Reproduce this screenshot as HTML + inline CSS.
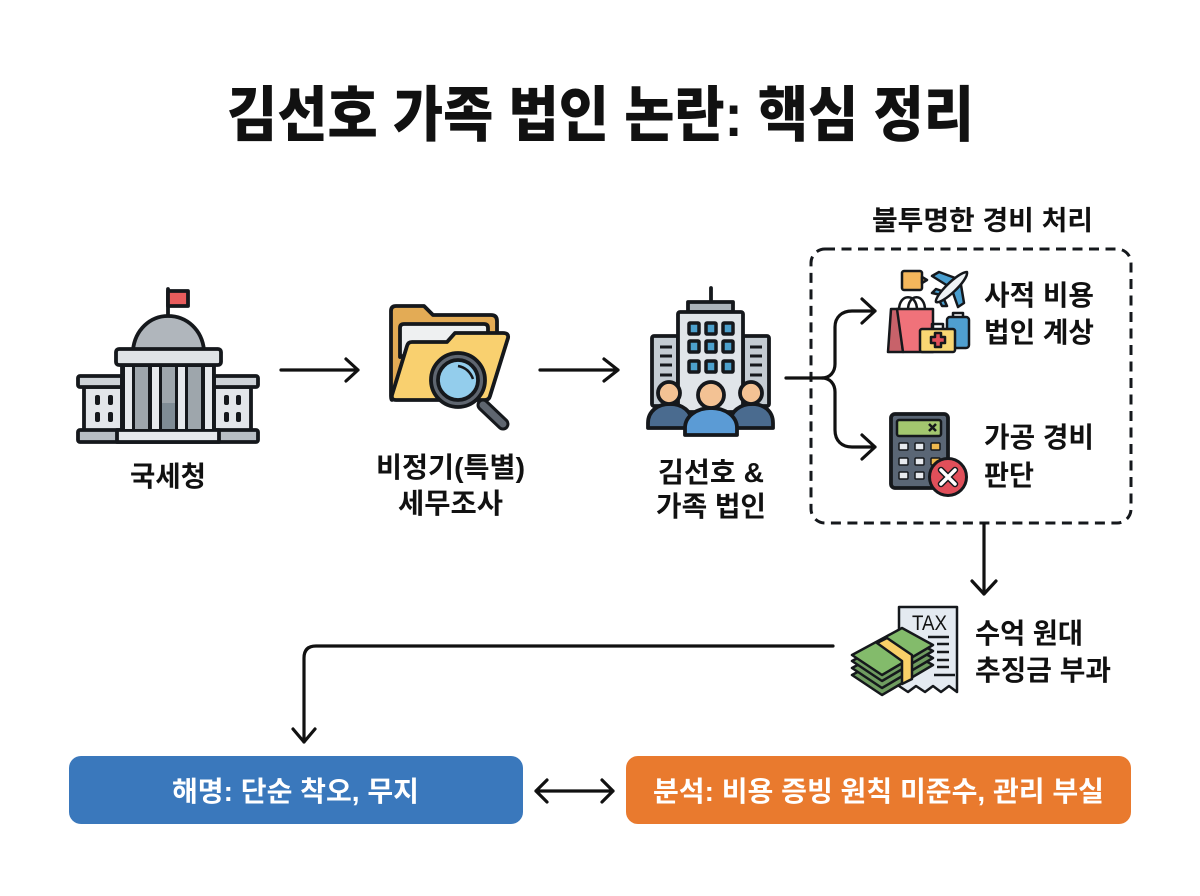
<!DOCTYPE html>
<html lang="ko"><head><meta charset="utf-8"><title>김선호 가족 법인 논란: 핵심 정리</title>
<style>
html,body{margin:0;padding:0;background:#fff}
svg{display:block}
text{font-family:"Liberation Sans","Noto Sans CJK KR",sans-serif;font-weight:700;fill:#111}
.l{font-size:28px}
.a{fill:none;stroke:#111;stroke-width:3.2;stroke-linecap:round;stroke-linejoin:round}
.o{stroke:#15181c;stroke-width:3.800;stroke-linejoin:round;stroke-linecap:round}
.t{stroke:#15181c;stroke-width:2.500;stroke-linejoin:round;stroke-linecap:round}
</style></head><body>
<svg width="1200" height="896" viewBox="0 0 1200 896" xmlns="http://www.w3.org/2000/svg">
<rect width="1200" height="896" fill="#fff"/>
<text x="227" y="136" font-size="60" style="font-weight:900" textLength="747" lengthAdjust="spacingAndGlyphs">김선호 가족 법인 논란: 핵심 정리</text>

<!-- building -->
<g class="o">
<path d="M168 289V316" fill="none"/>
<rect x="168" y="291" width="20" height="15" fill="#e85c5c"/>
<path d="M133 350C135 330 150 316 168 316C187 316 202 330 204 350Z" fill="#b0b6bc"/>
<rect x="84" y="387" width="38" height="44" fill="#e3e6ea"/>
<rect x="214" y="387" width="37" height="44" fill="#e3e6ea"/>
<rect x="78" y="376" width="44" height="11" rx="2" fill="#cdd2d7"/>
<rect x="214" y="376" width="44" height="11" rx="2" fill="#cdd2d7"/>
<rect x="122" y="365" width="92" height="66" fill="#15181c"/>
<rect x="78" y="430" width="180" height="12" rx="2" fill="#b8bec4"/>
<rect x="117" y="430" width="102" height="12" fill="#e6e9ec"/>
<rect x="116" y="349" width="105" height="16" rx="3" fill="#dfe3e6"/>
</g>
<g fill="#e6e9ec"><rect x="125" y="367" width="7" height="62"/><rect x="152" y="367" width="7" height="62"/><rect x="178" y="367" width="7" height="62"/><rect x="205" y="367" width="7" height="62"/></g>
<g fill="#9ea6ac"><rect x="135" y="367" width="13" height="62"/><rect x="162" y="367" width="13" height="62"/><rect x="188" y="367" width="13" height="62"/></g>
<rect x="162" y="403" width="13" height="26" fill="#7f8c95"/>
<g fill="#15181c"><rect x="95" y="395" width="5" height="10" rx="2"/><rect x="108" y="395" width="5" height="10" rx="2"/><rect x="95" y="412" width="5" height="10" rx="2"/><rect x="108" y="412" width="5" height="10" rx="2"/><rect x="224" y="395" width="5" height="10" rx="2"/><rect x="236" y="395" width="5" height="10" rx="2"/><rect x="224" y="412" width="5" height="10" rx="2"/><rect x="236" y="412" width="5" height="10" rx="2"/></g>
<text class="l" x="130" y="486" textLength="76" lengthAdjust="spacingAndGlyphs">국세청</text>

<path class="a" d="M281 370H358M346 359L358 370L346 381"/>

<!-- folder -->
<g class="o">
<path d="M391 311Q391 306 396 306H424L433 315H491Q497 315 497 321V345L392 400Q391 400 391 396Z" fill="#e3ab55"/>
<path d="M400 357V328Q400 324 404 324H484Q488 324 488 328V342H448L400 357Z" fill="#eef0f1"/>
<path d="M407 346Q408 342 412 342H447L455 333H503Q509 333 508 338L490 396Q489 400 485 400H396Q391 400 392 395Z" fill="#f9d06f"/>
<path d="M483 405L503 424" fill="none" style="stroke-width:13"/>
<path d="M483 405L503 424" fill="none" style="stroke:#5f6670;stroke-width:7"/>
<circle cx="458" cy="380" r="27" fill="#5f6670"/>
<circle cx="458" cy="380" r="20" fill="#93cdec"/>
</g>
<path d="M458 366Q469 368 473 379" fill="none" stroke="#15181c" stroke-width="2.500"/>
<text class="l" x="376" y="477" textLength="149" lengthAdjust="spacingAndGlyphs">비정기(특별)</text>
<text class="l" x="398" y="513" textLength="105" lengthAdjust="spacingAndGlyphs">세무조사</text>

<path class="a" d="M540 370H618M604 359L618 370L604 381"/>

<!-- company -->
<g class="o">
<path d="M711 288V302" fill="none"/>
<rect x="688" y="302" width="45" height="10" fill="#aab2b9"/>
<rect x="652" y="336" width="26" height="70" rx="2" fill="#c4ccd3"/>
<rect x="743" y="336" width="26" height="70" rx="2" fill="#c4ccd3"/>
<rect x="678" y="312" width="65" height="100" rx="2" fill="#e0e5e9"/>
<path d="M648 428V423C648 411 658 404 670 404C682 404 692 411 692 423V428Z" fill="#4a6b8f"/>
<path d="M730 428V423C730 411 741 404 752 404C764 404 773 411 773 423V428Z" fill="#4a6b8f"/>
<circle cx="669" cy="393" r="11" fill="#f3c294"/>
<circle cx="751" cy="393" r="11" fill="#f3c294"/>
<path d="M685 435V428C685 416 697 408 711 408C725 408 737 416 737 428V435Z" fill="#5b9bd5"/>
<circle cx="711" cy="395" r="13" fill="#f3c294"/>
</g>
<g fill="#4ca0cc" stroke="#15181c" stroke-width="3.500"><rect x="689" y="323" width="10" height="11" rx="1"/><rect x="706" y="323" width="10" height="11" rx="1"/><rect x="723" y="323" width="10" height="11" rx="1"/><rect x="689" y="341" width="10" height="11" rx="1"/><rect x="706" y="341" width="10" height="11" rx="1"/><rect x="723" y="341" width="10" height="11" rx="1"/><rect x="689" y="361" width="10" height="11" rx="1"/><rect x="706" y="361" width="10" height="11" rx="1"/><rect x="723" y="361" width="10" height="11" rx="1"/></g>
<path d="M660 347H672M660 356H672M660 365H672M660 375H672M750 347H762M750 356H762M750 365H762M750 375H762" stroke="#15181c" stroke-width="3"/>
<text class="l" x="658" y="482" textLength="106" lengthAdjust="spacingAndGlyphs">김선호 &amp;</text>
<text class="l" x="656" y="516" textLength="110" lengthAdjust="spacingAndGlyphs">가족 법인</text>

<!-- dashed group -->
<text x="872" y="230" font-size="27" textLength="221" lengthAdjust="spacingAndGlyphs">불투명한 경비 처리</text>
<rect x="811" y="249" width="320" height="274" rx="14" fill="none" stroke="#15181c" stroke-width="3" stroke-dasharray="10 6.500"/>

<path class="a" d="M786 378H822C830 378 835 372 835 364V327C835 317 842 311 852 311H875M862 299L875 311L862 323"/>
<path class="a" d="M822 378C830 378 835 384 835 392V430C835 441 842 447 852 447H875M862 435L875 447L862 459"/>

<!-- purchases icon -->
<g class="t">
<rect x="902" y="271" width="20" height="19" rx="2" fill="#f5b75c"/>
<path d="M922 277L927 280L922 283Z" fill="#f5b75c"/>
<path d="M948 286L932 276L939 272L958 279Z" fill="#4a9fd0"/>
<path d="M952 290L961 285L964 303L958 307Z" fill="#4a9fd0"/>
<path d="M941 295L932 293L936 289L945 292Z" fill="#4a9fd0"/>
<path d="M943 297L947 306L942 306L939 300Z" fill="#4a9fd0"/>
<path d="M936 302C934 296 958 272 967 272C969 280 942 305 936 302Z" fill="#eef2f5"/>
<rect x="953" y="313" width="10" height="5" fill="none"/>
<rect x="947" y="317" width="22" height="31" rx="3" fill="#4f9fd0"/>
<path d="M899 310C899 293 917 293 917 310M908 310C908 293 925 293 925 310" fill="none"/>
<path d="M891 309H898L903 352L888 352Z" fill="#c8626a"/>
<path d="M897 309H933V352H903Z" fill="#f0727a"/>
<path d="M932 329V324H943V329" fill="none"/>
<rect x="920" y="329" width="35" height="23" rx="2" fill="#f9d773"/>
<path d="M935 333H941V337H945V343H941V347H935V343H931V337H935Z" fill="#e2505a"/>
</g>
<text class="l" x="984" y="305" textLength="110" lengthAdjust="spacingAndGlyphs">사적 비용</text>
<text class="l" x="984" y="342" textLength="110" lengthAdjust="spacingAndGlyphs">법인 계상</text>

<!-- calculator -->
<g class="o">
<rect x="891" y="414" width="57" height="74" rx="4" fill="#5a6675"/>
<rect x="897" y="420" width="44" height="16" rx="2" fill="#a3c76f" style="stroke-width:2.500"/>
</g>
<path d="M929 424L936 431M936 424L929 431" stroke="#15181c" stroke-width="2.500"/>
<g fill="#e7eaee" stroke="#15181c" stroke-width="1.500"><rect x="899" y="443" width="9" height="7" rx="1"/><rect x="915" y="443" width="9" height="7" rx="1"/><rect x="931" y="443" width="9" height="7" rx="1" fill="#efb94e"/><rect x="899" y="458" width="9" height="7" rx="1"/><rect x="915" y="458" width="9" height="7" rx="1"/><rect x="931" y="458" width="9" height="7" rx="1" fill="#efb94e"/><rect x="899" y="472" width="9" height="7" rx="1"/><rect x="915" y="472" width="9" height="7" rx="1"/></g>
<circle cx="948" cy="477" r="18.500" fill="#e04f5a" stroke="#15181c" stroke-width="3"/>
<path d="M941 470L955 484M955 470L941 484" stroke="#15181c" stroke-width="6.500" stroke-linecap="round"/>
<path d="M941 470L955 484M955 470L941 484" stroke="#fff" stroke-width="3.500" stroke-linecap="round"/>
<text class="l" x="984" y="447" textLength="110" lengthAdjust="spacingAndGlyphs">가공 경비</text>
<text class="l" x="984" y="485" textLength="50" lengthAdjust="spacingAndGlyphs">판단</text>

<path class="a" d="M984 524V594M972 581L984 594L996 581"/>

<!-- tax icon -->
<path d="M899 607H957V692L949 686L941 692L933 686L925 692L916 686L908 692L899 686Z" fill="#e4eaf1" stroke="#15181c" stroke-width="2.500" stroke-linejoin="round"/>
<text x="912" y="630" font-size="21" textLength="35" lengthAdjust="spacingAndGlyphs" style="font-weight:500">TAX</text>
<path d="M928 637H949M937 644H949M937 652H949M937 660H949M937 667H949M934 675H955" stroke="#15181c" stroke-width="2.500"/>
<g class="t" fill="#6f9c60">
<path d="M852 675L902 648L933 665L882 695Z"/>
<path d="M852 668L902 641L933 658L882 688Z"/>
<path d="M852 661L902 634L933 651L882 681Z"/>
<path d="M852 655L902 628L933 645L882 675Z" fill="#83bb6b"/>
<path d="M877 643L887 638L912 655V679L902 684V661Z" fill="#f9d068"/>
</g>
<text class="l" x="975" y="643" textLength="108" lengthAdjust="spacingAndGlyphs">수억 원대</text>
<text class="l" x="975" y="680" textLength="136" lengthAdjust="spacingAndGlyphs">추징금 부과</text>

<path class="a" d="M833 646H316Q304 646 304 658V742M293 729L304 742L315 729"/>

<!-- bottom boxes -->
<rect x="69" y="756" width="454" height="68" rx="12" fill="#3a78bc"/>
<rect x="626" y="756" width="505" height="68" rx="12" fill="#e97a2e"/>
<text class="l" x="172" y="801" style="fill:#fff" textLength="247" lengthAdjust="spacingAndGlyphs">해명: 단순 착오, 무지</text>
<text class="l" x="653" y="801" style="fill:#fff" textLength="451" lengthAdjust="spacingAndGlyphs">분석: 비용 증빙 원칙 미준수, 관리 부실</text>
<path class="a" d="M536 791H613M547 780L536 791L547 802M602 780L613 791L602 802"/>
</svg>
</body></html>
